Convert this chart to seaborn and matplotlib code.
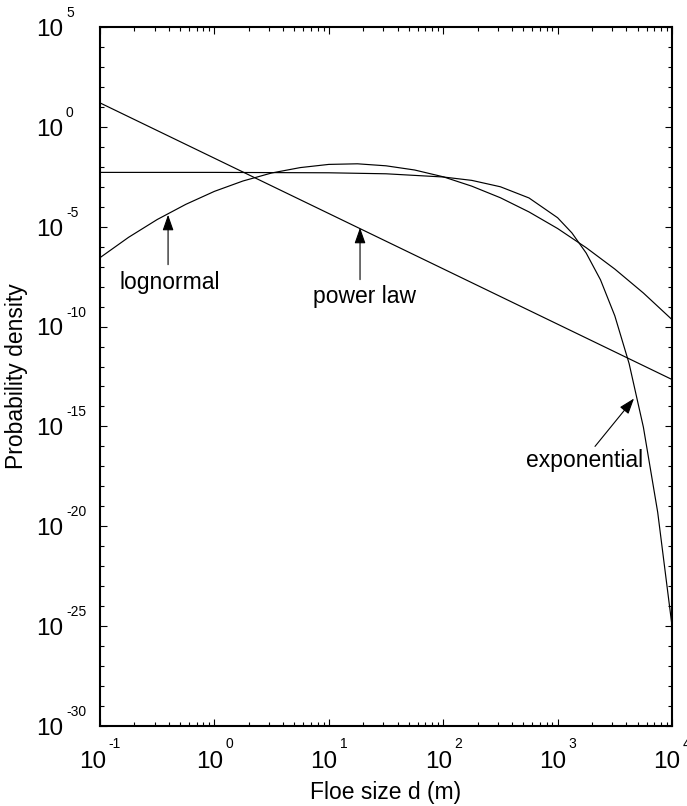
import numpy as np
import pandas as pd
import matplotlib
matplotlib.use("Agg")
import matplotlib.pyplot as plt
from matplotlib.ticker import FixedLocator, LogLocator, NullFormatter
import seaborn as sns

# log10 of floe size d (m) and log10 of probability density for each fitted distribution
power_log_d = [-1.0, 0.0, 1.0, 2.0, 3.0, 4.0]
power_log_p = [1.20, -1.57, -4.34, -7.11, -9.88, -12.65]

lognormal_log_d = [-1.0, -0.75, -0.5, -0.25, 0.0, 0.25, 0.5, 0.75, 1.0, 1.25, 1.5,
                   1.75, 2.0, 2.25, 2.5, 2.75, 3.0, 3.25, 3.5, 3.75, 4.0]
lognormal_log_p = [-6.55, -5.53, -4.64, -3.88, -3.23, -2.71, -2.31, -2.04, -1.88, -1.85, -1.95,
                   -2.16, -2.50, -2.97, -3.55, -4.26, -5.09, -6.05, -7.12, -8.32, -9.65]

exponential_log_d = [-1.0, 0.0, 1.0, 1.5, 2.0, 2.25, 2.5, 2.75, 3.0, 3.125, 3.25,
                     3.375, 3.5, 3.625, 3.75, 3.875, 4.0]
exponential_log_p = [-2.28, -2.28, -2.30, -2.35, -2.51, -2.68, -3.00, -3.56, -4.55, -5.31, -6.32,
                     -7.66, -9.46, -11.85, -15.04, -19.30, -24.98]

x_tick_exponents = [-1, 0, 1, 2, 3, 4]
y_tick_exponents = [5, 0, -5, -10, -15, -20, -25, -30]

frames = []
for name, ld, lp in [("power law", power_log_d, power_log_p),
                     ("lognormal", lognormal_log_d, lognormal_log_p),
                     ("exponential", exponential_log_d, exponential_log_p)]:
    frames.append(pd.DataFrame({"d": 10.0 ** np.array(ld),
                                "p": 10.0 ** np.array(lp),
                                "model": name}))
df = pd.concat(frames, ignore_index=True)

sns.set_theme(style="ticks")
plt.rcParams["font.family"] = ["Liberation Sans", "DejaVu Sans"]

fig = plt.figure(figsize=(6.87, 8.06), dpi=100)
ax = fig.add_axes([100 / 687, 1 - 726 / 806, 572 / 687, 699 / 806])

sns.lineplot(data=df, x="d", y="p", units="model", estimator=None, sort=False,
             color="black", linewidth=0.85, ax=ax)

ax.set_xscale("log")
ax.set_yscale("log")
ax.set_xlim(1e-1, 1e4)
ax.set_ylim(1e-30, 1e5)

ax.xaxis.set_major_locator(FixedLocator([10.0 ** e for e in x_tick_exponents]))
ax.xaxis.set_minor_locator(LogLocator(base=10, subs=np.arange(2, 10), numticks=100))
ax.yaxis.set_major_locator(FixedLocator([10.0 ** e for e in y_tick_exponents]))
ax.yaxis.set_minor_locator(FixedLocator([10.0 ** k for k in range(-30, 6) if k % 5 != 0]))
ax.xaxis.set_major_formatter(NullFormatter())
ax.xaxis.set_minor_formatter(NullFormatter())
ax.yaxis.set_major_formatter(NullFormatter())
ax.yaxis.set_minor_formatter(NullFormatter())

ax.tick_params(which="both", direction="in", top=True, right=True, color="black", width=0.8)
ax.tick_params(which="major", length=5.2)
ax.tick_params(axis="x", which="minor", length=2.8)
ax.tick_params(axis="y", which="minor", length=3.2)
for sp in ax.spines.values():
    sp.set_linewidth(1.5)
    sp.set_color("black")

label_fs = 16.5
ax.set_xlabel("Floe size d (m)", fontsize=label_fs, color="black")
ax.set_ylabel("Probability density", fontsize=label_fs, color="black")
ax.xaxis.set_label_coords(0.5, -0.0787)
ax.yaxis.set_label_coords(-0.126, 0.5)

# power-of-ten tick labels with raised exponents
base_fs, sup_fs = 17.5, 10.0
fig.canvas.draw()
renderer = fig.canvas.get_renderer()
for e in x_tick_exponents:
    base = ax.annotate("10", xy=(10.0 ** e, 0), xycoords=("data", "axes fraction"),
                       xytext=(0, -42), textcoords="offset pixels", ha="left", va="baseline",
                       fontsize=base_fs, color="black", annotation_clip=False)
    sup = ax.annotate(f"{e}", xy=(10.0 ** e, 0), xycoords=("data", "axes fraction"),
                      xytext=(0, -22), textcoords="offset pixels", ha="left", va="baseline",
                      fontsize=sup_fs, color="black", annotation_clip=False)
    wb = base.get_window_extent(renderer).width
    ws = sup.get_window_extent(renderer).width
    gap = 2
    total = wb + gap + ws
    base.xyann = (-total / 2, -42)
    sup.xyann = (-total / 2 + wb + gap, -22)

for e in y_tick_exponents:
    ax.annotate("10", xy=(0, 10.0 ** e), xycoords=("axes fraction", "data"),
                xytext=(-37, -8.8), textcoords="offset pixels", ha="right", va="baseline",
                fontsize=base_fs, color="black", annotation_clip=False)
    ax.annotate(f"{e}", xy=(0, 10.0 ** e), xycoords=("axes fraction", "data"),
                xytext=(-34, 10), textcoords="offset pixels", ha="left", va="baseline",
                fontsize=sup_fs, color="black", annotation_clip=False)

# curve labels with arrows
arrow_kw = dict(arrowstyle="-|>,head_length=0.8,head_width=0.28", mutation_scale=12,
                color="black", lw=0.8, shrinkA=0, shrinkB=0)
ax.annotate("", xy=(10 ** -0.405, 10 ** -4.4), xytext=(10 ** -0.405, 10 ** -6.9),
            arrowprops=arrow_kw)
ax.annotate("", xy=(10 ** 1.273, 10 ** -5.05), xytext=(10 ** 1.273, 10 ** -7.65),
            arrowprops=arrow_kw)
ax.annotate("", xy=(10 ** 3.668, 10 ** -13.6), xytext=(10 ** 3.327, 10 ** -16.0),
            arrowprops=arrow_kw)
ax.text(10 ** -0.392, 10 ** -8.1, "lognormal", ha="center", va="baseline", fontsize=label_fs, color="black")
ax.text(10 ** 1.316, 10 ** -8.8, "power law", ha="center", va="baseline", fontsize=label_fs, color="black")
ax.text(10 ** 3.24, 10 ** -17.05, "exponential", ha="center", va="baseline", fontsize=label_fs, color="black")

fig.savefig("out.png", dpi=100)
